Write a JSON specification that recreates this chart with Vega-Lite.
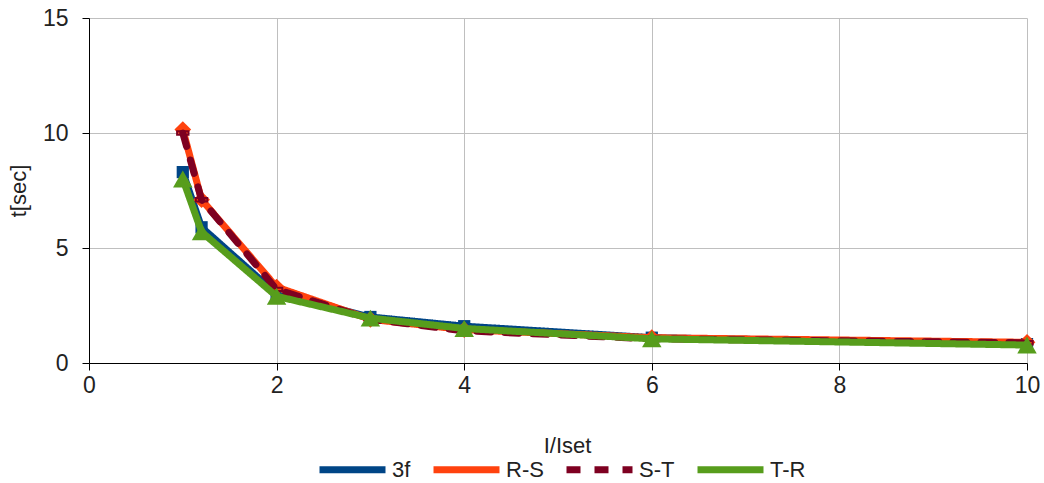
{
  "$schema": "https://vega.github.io/schema/vega-lite/v6.json",
  "width": 938,
  "height": 345,
  "autosize": "none",
  "padding": {"left": 89, "top": 18, "right": 17, "bottom": 120},
  "background": "white",
  "config": {
    "font": "Liberation Sans",
    "view": {"stroke": null}
  },
  "data": {
    "values": [
      {"ratio": 1, "t": 8.3, "phase": "3f"},
      {"ratio": 1.2, "t": 5.9, "phase": "3f"},
      {"ratio": 2, "t": 3.0, "phase": "3f"},
      {"ratio": 3, "t": 2.0, "phase": "3f"},
      {"ratio": 4, "t": 1.6, "phase": "3f"},
      {"ratio": 6, "t": 1.1, "phase": "3f"},
      {"ratio": 10, "t": 0.82, "phase": "3f"},
      {"ratio": 1, "t": 10.15, "phase": "R-S"},
      {"ratio": 1.2, "t": 7.1, "phase": "R-S"},
      {"ratio": 2, "t": 3.3, "phase": "R-S"},
      {"ratio": 3, "t": 1.9, "phase": "R-S"},
      {"ratio": 4, "t": 1.45, "phase": "R-S"},
      {"ratio": 6, "t": 1.1, "phase": "R-S"},
      {"ratio": 10, "t": 0.9, "phase": "R-S"},
      {"ratio": 1, "t": 10.0, "phase": "S-T"},
      {"ratio": 1.2, "t": 7.1, "phase": "S-T"},
      {"ratio": 2, "t": 3.2, "phase": "S-T"},
      {"ratio": 3, "t": 1.9, "phase": "S-T"},
      {"ratio": 4, "t": 1.4, "phase": "S-T"},
      {"ratio": 6, "t": 1.05, "phase": "S-T"},
      {"ratio": 10, "t": 0.88, "phase": "S-T"},
      {"ratio": 1, "t": 8.0, "phase": "T-R"},
      {"ratio": 1.2, "t": 5.7, "phase": "T-R"},
      {"ratio": 2, "t": 2.9, "phase": "T-R"},
      {"ratio": 3, "t": 1.95, "phase": "T-R"},
      {"ratio": 4, "t": 1.5, "phase": "T-R"},
      {"ratio": 6, "t": 1.05, "phase": "T-R"},
      {"ratio": 10, "t": 0.78, "phase": "T-R"}
    ]
  },
  "encoding": {
    "x": {
      "field": "ratio",
      "type": "quantitative",
      "scale": {"domain": [0, 10], "nice": false},
      "axis": {
        "title": "I/Iset",
        "titleX": 478,
        "values": [0, 2, 4, 6, 8, 10],
        "labelFlush": false,
        "labelFontSize": 23,
        "labelColor": "#222222",
        "labelPadding": 4,
        "titleFontSize": 22,
        "titleFontWeight": "normal",
        "titleColor": "#222222",
        "titlePadding": 38,
        "domainColor": "#000000",
        "tickColor": "#000000",
        "tickSize": 7,
        "gridColor": "#bfbfbf",
        "gridWidth": 1
      }
    },
    "y": {
      "field": "t",
      "type": "quantitative",
      "scale": {"domain": [0, 15], "nice": false},
      "axis": {
        "title": "t[sec]",
        "values": [0, 5, 10, 15],
        "labelFlush": false,
        "labelFontSize": 23,
        "labelColor": "#222222",
        "labelPadding": 14,
        "titleFontSize": 22,
        "titleFontWeight": "normal",
        "titleColor": "#222222",
        "titlePadding": 12,
        "domainColor": "#000000",
        "tickColor": "#000000",
        "tickSize": 7,
        "gridColor": "#bfbfbf",
        "gridWidth": 1
      }
    }
  },
  "layer": [
    {
      "transform": [{"filter": "datum.phase === '3f'"}],
      "mark": {"type": "line", "strokeWidth": 7, "strokeCap": "round", "strokeJoin": "round"},
      "encoding": {
        "color": {
          "field": "phase",
          "type": "nominal",
          "scale": {"domain": ["3f", "R-S", "S-T", "T-R"], "range": ["#004586", "#ff420e", "#7e0021", "#579d1c"]},
          "legend": {
            "title": null,
            "orient": "none",
            "legendX": 227,
            "legendY": 415,
            "direction": "horizontal",
            "symbolType": "stroke",
            "symbolSize": 4356,
            "symbolStrokeWidth": 7,
            "labelFontSize": 22,
            "labelColor": "#222222",
            "labelOffset": 3,
            "columnPadding": 8
          }
        },
        "strokeDash": {
          "field": "phase",
          "type": "nominal",
          "scale": {"domain": ["3f", "R-S", "S-T", "T-R"], "range": [[1, 0], [1, 0], [14, 14], [1, 0]]}
        }
      }
    },
    {
      "transform": [{"filter": "datum.phase === '3f'"}],
      "mark": {"type": "point", "shape": "square", "size": 150, "filled": true, "opacity": 1, "color": "#004586"}
    },
    {
      "transform": [{"filter": "datum.phase === 'R-S'"}],
      "mark": {"type": "line", "strokeWidth": 7, "strokeCap": "round", "strokeJoin": "round"},
      "encoding": {
        "color": {"field": "phase", "type": "nominal"},
        "strokeDash": {"field": "phase", "type": "nominal"}
      }
    },
    {
      "transform": [{"filter": "datum.phase === 'R-S'"}],
      "mark": {"type": "point", "shape": "diamond", "size": 280, "filled": true, "opacity": 1, "color": "#ff420e"}
    },
    {
      "transform": [{"filter": "datum.phase === 'S-T'"}],
      "mark": {"type": "line", "strokeWidth": 7, "strokeCap": "round", "strokeJoin": "round"},
      "encoding": {
        "color": {"field": "phase", "type": "nominal"},
        "strokeDash": {"field": "phase", "type": "nominal"}
      }
    },
    {
      "transform": [{"filter": "datum.phase === 'S-T'"}],
      "mark": {"type": "point", "shape": "M-1,-0.3H1V0.3H-1Z", "size": 130, "filled": false, "opacity": 1, "strokeWidth": 2, "color": "#7e0021"}
    },
    {
      "transform": [{"filter": "datum.phase === 'T-R'"}],
      "mark": {"type": "line", "strokeWidth": 7, "strokeCap": "round", "strokeJoin": "round"},
      "encoding": {
        "color": {"field": "phase", "type": "nominal"},
        "strokeDash": {"field": "phase", "type": "nominal"}
      }
    },
    {
      "transform": [{"filter": "datum.phase === 'T-R'"}],
      "mark": {"type": "point", "shape": "triangle-up", "size": 380, "filled": true, "opacity": 1, "color": "#579d1c"}
    }
  ]
}
